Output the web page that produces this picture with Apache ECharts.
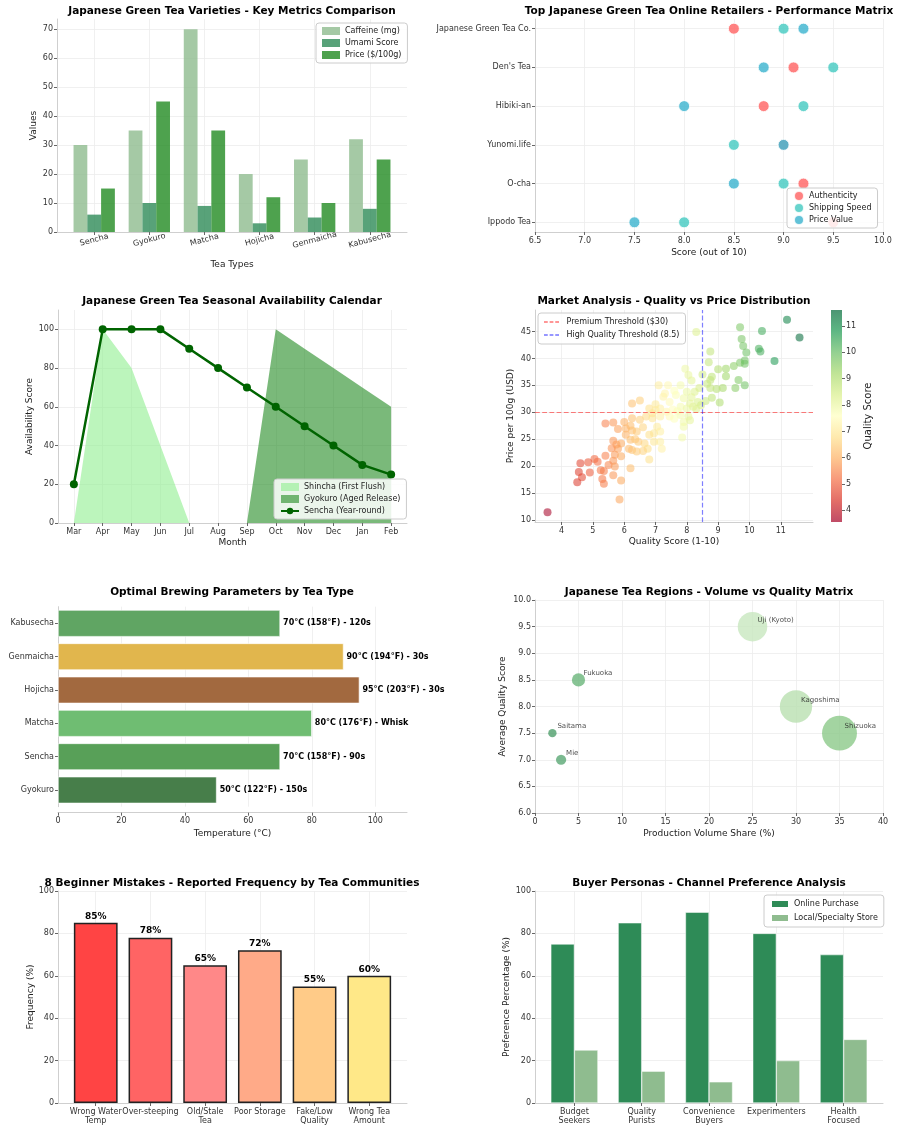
<!DOCTYPE html>
<html>
<head>
<meta charset="utf-8">
<script src="https://cdn.jsdelivr.net/npm/echarts@6/dist/echarts.min.js"></script>
<style>
html, body { margin: 0; padding: 0; background: #fff; }
#chart { width: 900px; height: 1133px; }
</style>
</head>
<body>
<div id="chart"></div>
<script>
// ---- data ----
const teaTypes = ['Sencha', 'Gyokuro', 'Matcha', 'Hojicha', 'Genmaicha', 'Kabusecha']
const caffeine = [30, 35, 70, 20, 25, 32]
const umami = [6, 10, 9, 3, 5, 8]
const price = [15, 45, 35, 12, 10, 25]

const retailers = ['Ippodo Tea', 'O-cha', 'Yunomi.life', 'Hibiki-an', "Den's Tea", 'Japanese Green Tea Co.']
const authenticity = [9.5, 9.2, 9.0, 8.8, 9.1, 8.5]
const shippingSpeed = [8.0, 9.0, 8.5, 9.2, 9.5, 9.0]
const priceValue = [7.5, 8.5, 9.0, 8.0, 8.8, 9.2]

const months = ['Mar', 'Apr', 'May', 'Jun', 'Jul', 'Aug', 'Sep', 'Oct', 'Nov', 'Dec', 'Jan', 'Feb']
const shincha = [0, 100, 80, 40, 0, 0, 0, 0, 0, 0, 0, 0]
const gyokuroRelease = [0, 0, 0, 0, 0, 0, 0, 100, 90, 80, 70, 60]
const senchaYear = [20, 100, 100, 100, 90, 80, 70, 60, 50, 40, 30, 25]

// [quality score, price per 100g]
const marketPoints = [
  [11.2, 47.2], [11.6, 43.9], [10.4, 45.1], [9.7, 45.8], [9.75, 43.6], [9.8, 42.3], [9.9, 41.1],
  [10.3, 41.8], [10.35, 41.3], [10.8, 39.5], [9.7, 39.2], [9.85, 39.0], [9.85, 39.6], [9.5, 38.6],
  [9.25, 38.1], [9.0, 38.0], [9.25, 36.7], [9.65, 36.0], [9.55, 34.5], [9.85, 35.0], [9.15, 34.5],
  [8.95, 34.3], [8.75, 34.5], [8.75, 36.0], [8.8, 36.6], [8.7, 39.3], [8.75, 41.3], [9.05, 31.8],
  [8.8, 32.7], [8.6, 32.1], [8.5, 37.0], [8.3, 44.9], [8.65, 35.3], [7.95, 38.1], [8.05, 36.9],
  [7.8, 35.0], [8.0, 33.8], [8.25, 33.8], [7.9, 32.6], [8.1, 31.6], [8.35, 31.9], [8.45, 31.3],
  [7.65, 33.2], [7.4, 35.0], [7.1, 35.0], [7.25, 32.9], [7.45, 31.9], [7.8, 31.0], [8.0, 30.7],
  [8.2, 31.0], [6.8, 30.7], [7.0, 30.4], [7.15, 30.7], [7.35, 30.1], [7.15, 29.2], [7.45, 29.2],
  [7.8, 29.5], [8.05, 29.2], [7.9, 28.2], [8.1, 28.5], [7.9, 27.3], [7.85, 25.3], [6.7, 29.2],
  [6.9, 28.9], [6.5, 28.6], [6.25, 28.9], [7.05, 27.3], [7.15, 26.4], [6.95, 26.1], [6.8, 25.8],
  [7.15, 24.5], [7.2, 23.2], [6.95, 24.5], [6.65, 24.2], [6.45, 24.5], [6.75, 23.2], [6.8, 21.2],
  [6.4, 26.4], [6.25, 26.6], [6.2, 27.5], [6.05, 27.0], [6.0, 28.2], [6.25, 31.6], [6.5, 32.2],
  [6.05, 25.8], [6.2, 24.9], [6.15, 23.2], [6.25, 23.0], [6.4, 22.7], [5.9, 24.2], [5.8, 23.2],
  [6.2, 19.6], [5.9, 17.3], [5.85, 13.8], [5.4, 27.9], [5.65, 28.1], [5.8, 26.9], [5.65, 24.7],
  [5.75, 24.0], [5.6, 23.3], [5.7, 22.1], [5.9, 21.8], [5.4, 21.9], [5.65, 21.0], [5.5, 20.2],
  [5.7, 19.9], [5.05, 21.3], [5.15, 20.8], [5.25, 19.2], [5.35, 19.1], [4.9, 18.8], [4.85, 20.7],
  [4.6, 20.5], [4.55, 18.9], [4.65, 17.9], [4.5, 17.0], [5.3, 17.6], [5.35, 16.7], [5.65, 18.3],
  [3.55, 11.4], [8.15, 35.9], [7.6, 34.0], [7.55, 30.5], [7.7, 30.2], [8.3, 30.6], [7.3, 33.5],
  [7.0, 31.5], [6.9, 29.8], [8.4, 34.5], [8.15, 32.8], [7.6, 28.8], [6.6, 27.2], [6.35, 25.0], [6.6, 22.8]
]
const premiumThreshold = 30
const qualityThreshold = 8.5
const qualityMin = 3.55
const qualityMax = 11.6

const brewTeas = ['Gyokuro', 'Sencha', 'Matcha', 'Hojicha', 'Genmaicha', 'Kabusecha']
const brewTemps = [50, 70, 80, 95, 90, 70]
const brewLabels = ['50°C (122°F) - 150s', '70°C (158°F) - 90s', '80°C (176°F) - Whisk',
  '95°C (203°F) - 30s', '90°C (194°F) - 30s', '70°C (158°F) - 120s']

const regions = ['Shizuoka', 'Kagoshima', 'Uji (Kyoto)', 'Fukuoka', 'Mie', 'Saitama']
const regionVolume = [35, 30, 25, 5, 3, 2]
const regionQuality = [7.5, 8.0, 9.5, 8.5, 7.0, 7.5]

const mistakes = ['Wrong Water\nTemp', 'Over-steeping', 'Old/Stale\nTea', 'Poor Storage', 'Fake/Low\nQuality', 'Wrong Tea\nAmount']
const mistakeFreq = [85, 78, 65, 72, 55, 60]

const personas = ['Budget\nSeekers', 'Quality\nPurists', 'Convenience\nBuyers', 'Experimenters', 'Health\nFocused']
const onlinePref = [75, 85, 90, 80, 70]
const localPref = [25, 15, 10, 20, 30]

// ---- styles ----
const FONT = '"DejaVu Sans", sans-serif'
const brewColors = ['#477e4a', '#58a058', '#6fbd72', '#a2693f', '#e1b64d', '#60a563']
const regionColors = ['#8cc98a', '#b9e0b0', '#c8e7bf', '#6ab57a', '#5aa874', '#4f9f6c']
const mistakeColors = ['#ff4444', '#ff6464', '#ff8888', '#ffaa88', '#ffcb88', '#ffe888']
const rdylgn = ['#a50026', '#d73027', '#f46d43', '#fdae61', '#fee08b', '#ffffbf', '#d9ef8b', '#a6d96a', '#66bd63', '#1a9850', '#006837']
const rgba = (hex, a) => `rgba(${parseInt(hex.slice(1, 3), 16)},${parseInt(hex.slice(3, 5), 16)},${parseInt(hex.slice(5, 7), 16)},${a})`
const cmap = rdylgn.map(c => rgba(c, 0.7))
const dashIcon = 'path://M0,0H5V2H0Z M7.5,0H12.5V2H7.5Z M15,0H20V2H15Z'

const range = (a, b, s) => { const r = []; for (let v = a; v <= b + 1e-9; v += s) r.push(Math.round(v * 100) / 100); return r }

function vAxis(grid, min, max, step, o) {
  o = o || {}
  const ticks = o.ticks || range(Math.ceil(min / step - 1e-9) * step, max, step)
  return {
    type: 'value', gridIndex: grid, min, max, minInterval: step, maxInterval: step,
    position: o.position,
    offset: o.offset || 0,
    name: o.name || '', nameLocation: 'middle', nameGap: o.nameGap || 20,
    nameRotate: o.nameRotate,
    nameTextStyle: { color: '#222', fontSize: o.nameSize || 9, fontFamily: FONT },
    axisLine: { show: o.line !== false, onZero: false, lineStyle: { color: '#cfcfcf', width: 1 } },
    axisTick: { show: true, length: 3, customValues: ticks, lineStyle: { color: '#666' } },
    axisLabel: {
      color: '#333', fontSize: 8, fontFamily: FONT, margin: o.margin || 4,
      customValues: ticks, formatter: o.fmt, rotate: o.rotate || 0, align: o.align,
      lineHeight: 9, hideOverlap: false
    },
    splitLine: { show: o.split !== false, lineStyle: { color: '#ececec', width: 0.8 } }
  }
}

const legendBase = {
  orient: 'vertical', itemWidth: 18, itemHeight: 8, itemGap: 4, padding: [4, 6],
  backgroundColor: 'rgba(255,255,255,0.85)', borderColor: '#cccccc', borderWidth: 1, borderRadius: 3,
  textStyle: { fontSize: 8, color: '#222', fontFamily: FONT }
}

const titles = [
  [232, 11, 'Japanese Green Tea Varieties - Key Metrics Comparison'],
  [709, 11, 'Top Japanese Green Tea Online Retailers - Performance Matrix'],
  [232, 301, 'Japanese Green Tea Seasonal Availability Calendar'],
  [674, 301, 'Market Analysis - Quality vs Price Distribution'],
  [232, 592, 'Optimal Brewing Parameters by Tea Type'],
  [709, 592, 'Japanese Tea Regions - Volume vs Quality Matrix'],
  [232, 883, '8 Beginner Mistakes - Reported Frequency by Tea Communities'],
  [709, 883, 'Buyer Personas - Channel Preference Analysis']
]

const pairs = arr => arr.map((v, i) => [i, v])

const option = {
  animation: false,
  backgroundColor: '#fff',
  textStyle: { fontFamily: FONT },
  graphic: titles.map(t => ({
    type: 'text', x: t[0], y: t[1],
    style: { text: t[2], font: 'bold 10.5px "DejaVu Sans"', fill: '#000', align: 'center', verticalAlign: 'middle' }
  })),
  grid: [
    { left: 57, top: 19, width: 350, height: 213 },
    { left: 535, top: 19, width: 348, height: 213 },
    { left: 58, top: 310, width: 349, height: 213 },
    { left: 535, top: 310, width: 278, height: 212 },
    { left: 58, top: 606.7, width: 349, height: 200 },
    { left: 535, top: 600, width: 348, height: 213 },
    { left: 58, top: 891, width: 349, height: 212 },
    { left: 535, top: 891, width: 348, height: 212 },
    { left: 831, top: 310, width: 11, height: 212 }
  ],
  xAxis: [
    vAxis(0, -0.675, 5.675, 1, { ticks: range(0, 5, 1), fmt: v => teaTypes[Math.round(v)], rotate: 15, align: 'center', margin: 8, name: 'Tea Types', nameGap: 28 }),
    vAxis(1, 6.5, 10, 0.5, { fmt: v => v.toFixed(1), name: 'Score (out of 10)', nameGap: 16 }),
    vAxis(2, -0.55, 11.55, 1, { ticks: range(0, 11, 1), fmt: v => months[Math.round(v)], name: 'Month', nameGap: 15 }),
    vAxis(3, 3.15, 12.03, 1, { ticks: range(4, 11, 1), name: 'Quality Score (1-10)', nameGap: 15 }),
    vAxis(4, 0, 110, 20, { ticks: range(0, 100, 20), offset: 6, name: 'Temperature (°C)', nameGap: 16 }),
    vAxis(5, 0, 40, 5, { name: 'Production Volume Share (%)', nameGap: 16 }),
    vAxis(6, -0.69, 5.69, 1, { ticks: range(0, 5, 1), fmt: v => mistakes[Math.round(v)] }),
    vAxis(7, -0.585, 4.585, 1, { ticks: range(0, 4, 1), fmt: v => personas[Math.round(v)] }),
    { type: 'category', gridIndex: 8, data: [''], show: false }
  ],
  yAxis: [
    vAxis(0, 0, 73.5, 10, { ticks: range(0, 70, 10), name: 'Values', nameGap: 19 }),
    vAxis(1, -0.25, 5.25, 1, { ticks: range(0, 5, 1), fmt: v => retailers[Math.round(v)] }),
    vAxis(2, 0, 110, 20, { ticks: range(0, 100, 20), name: 'Availability Score', nameGap: 24 }),
    vAxis(3, 9.6, 49, 5, { ticks: range(10, 45, 5), name: 'Price per 100g (USD)', nameGap: 20 }),
    {
      type: 'category', gridIndex: 4, data: brewTeas,
      axisLine: { show: true, lineStyle: { color: '#cfcfcf' } },
      axisTick: { show: true, alignWithLabel: true, length: 3, lineStyle: { color: '#666' } },
      axisLabel: { color: '#333', fontSize: 8, fontFamily: FONT, margin: 4 },
      splitLine: { show: false }
    },
    vAxis(5, 6, 10, 0.5, { fmt: v => v.toFixed(1), name: 'Average Quality Score', nameGap: 28 }),
    vAxis(6, 0, 100, 20, { name: 'Frequency (%)', nameGap: 23 }),
    vAxis(7, 0, 100, 20, { name: 'Preference Percentage (%)', nameGap: 24 }),
    vAxis(8, qualityMin, qualityMax, 1, { ticks: range(4, 11, 1), position: 'right', line: false, split: false, name: 'Quality Score', nameGap: 21, nameRotate: 90, nameSize: 10 })
  ],
  visualMap: [{
    type: 'continuous', show: false, seriesIndex: 10, dimension: 0,
    min: qualityMin, max: qualityMax, inRange: { color: cmap }
  }],
  legend: [
    Object.assign({}, legendBase, { left: 316, top: 23, icon: 'rect', data: ['Caffeine (mg)', 'Umami Score', 'Price ($/100g)'] }),
    Object.assign({}, legendBase, { left: 787, top: 188, icon: 'circle', itemWidth: 10, itemHeight: 10, itemGap: 0, padding: [2, 6], data: ['Authenticity', 'Shipping Speed', 'Price Value'] }),
    Object.assign({}, legendBase, { left: 274, top: 479, data: [{ name: 'Shincha (First Flush)', icon: 'rect' }, { name: 'Gyokuro (Aged Release)', icon: 'rect' }, 'Sencha (Year-round)'] }),
    Object.assign({}, legendBase, { left: 538, top: 313, itemWidth: 20, itemHeight: 1.5, itemGap: 5, padding: [5, 6], icon: dashIcon, data: ['Premium Threshold ($30)', 'High Quality Threshold (8.5)'] }),
    Object.assign({}, legendBase, { left: 764, top: 895, icon: 'rect', data: ['Online Purchase', 'Local/Specialty Store'] })
  ],
  series: [
    // 0-2 key metrics
    { type: 'bar', name: 'Caffeine (mg)', xAxisIndex: 0, yAxisIndex: 0, data: pairs(caffeine), barWidth: '25%', barGap: '0%', itemStyle: { color: '#8FBC8F', opacity: 0.8 } },
    { type: 'bar', name: 'Umami Score', xAxisIndex: 0, yAxisIndex: 0, data: pairs(umami), barWidth: '25%', barGap: '0%', itemStyle: { color: '#2E8B57', opacity: 0.8 } },
    { type: 'bar', name: 'Price ($/100g)', xAxisIndex: 0, yAxisIndex: 0, data: pairs(price), barWidth: '25%', barGap: '0%', itemStyle: { color: '#228B22', opacity: 0.8 } },
    // 3-5 retailers
    { type: 'scatter', name: 'Authenticity', xAxisIndex: 1, yAxisIndex: 1, data: authenticity.map((v, i) => [v, i]), symbolSize: 11, itemStyle: { color: '#FF6B6B', opacity: 0.85, borderColor: '#fff', borderWidth: 1 } },
    { type: 'scatter', name: 'Shipping Speed', xAxisIndex: 1, yAxisIndex: 1, data: shippingSpeed.map((v, i) => [v, i]), symbolSize: 11, itemStyle: { color: '#4ECDC4', opacity: 0.85, borderColor: '#fff', borderWidth: 1 } },
    { type: 'scatter', name: 'Price Value', xAxisIndex: 1, yAxisIndex: 1, data: priceValue.map((v, i) => [v, i]), symbolSize: 11, itemStyle: { color: '#45B7D1', opacity: 0.85, borderColor: '#fff', borderWidth: 1 } },
    // 6-8 seasonal
    { type: 'line', name: 'Shincha (First Flush)', xAxisIndex: 2, yAxisIndex: 2, data: pairs(shincha), symbol: 'none', lineStyle: { width: 0 }, itemStyle: { color: 'rgba(144,238,144,0.6)' }, areaStyle: { color: 'rgba(144,238,144,0.6)', opacity: 1 } },
    { type: 'line', name: 'Gyokuro (Aged Release)', xAxisIndex: 2, yAxisIndex: 2, data: pairs(gyokuroRelease), symbol: 'none', lineStyle: { width: 0 }, itemStyle: { color: 'rgba(34,139,34,0.6)' }, areaStyle: { color: 'rgba(34,139,34,0.6)', opacity: 1 } },
    { type: 'line', name: 'Sencha (Year-round)', xAxisIndex: 2, yAxisIndex: 2, data: pairs(senchaYear), symbol: 'circle', symbolSize: 8, lineStyle: { width: 2.5, color: '#006400' }, itemStyle: { color: '#006400' } },
    // 9 premium threshold
    { type: 'line', name: 'Premium Threshold ($30)', xAxisIndex: 3, yAxisIndex: 3, data: [], symbol: 'none', lineStyle: { type: 'dashed', color: 'rgba(255,0,0,0.55)', width: 1.2 }, itemStyle: { color: 'rgba(255,0,0,0.55)' },
      markLine: { silent: true, symbol: ['none', 'none'], label: { show: false }, lineStyle: { type: 'dashed', color: 'rgba(255,0,0,0.5)', width: 1.2 }, data: [{ yAxis: premiumThreshold }] } },
    // 10 market scatter
    { type: 'scatter', name: 'market', xAxisIndex: 3, yAxisIndex: 3, data: marketPoints, symbolSize: 8, z: 3 },
    { type: 'line', name: 'High Quality Threshold (8.5)', xAxisIndex: 3, yAxisIndex: 3, data: [], symbol: 'none', lineStyle: { type: 'dashed', color: 'rgba(0,0,255,0.55)', width: 1.2 }, itemStyle: { color: 'rgba(0,0,255,0.55)' },
      markLine: { silent: true, symbol: ['none', 'none'], label: { show: false }, lineStyle: { type: 'dashed', color: 'rgba(0,0,255,0.5)', width: 1.2 }, data: [{ xAxis: qualityThreshold }] } },
    // colorbar
    { type: 'bar', name: 'cbBase', xAxisIndex: 8, yAxisIndex: 8, stack: 'cb', data: [qualityMin], barWidth: '100%', itemStyle: { color: 'transparent' }, silent: true },
    { type: 'bar', name: 'cbRange', xAxisIndex: 8, yAxisIndex: 8, stack: 'cb', data: [qualityMax - qualityMin], barWidth: '100%', silent: true,
      itemStyle: { color: { type: 'linear', x: 0, y: 1, x2: 0, y2: 0, colorStops: cmap.map((c, i) => ({ offset: i / (cmap.length - 1), color: c })) } } },
    // brewing
    { type: 'bar', name: 'brew', xAxisIndex: 4, yAxisIndex: 4, barWidth: '80%',
      data: brewTemps.map((v, i) => ({ value: v, itemStyle: { color: brewColors[i] } })),
      itemStyle: { borderColor: '#fff', borderWidth: 0.6 },
      label: { show: true, position: 'right', distance: 3, formatter: p => brewLabels[p.dataIndex], fontWeight: 'bold', fontSize: 8, color: '#000', fontFamily: FONT } },
    // regions
    { type: 'scatter', name: 'regions', xAxisIndex: 5, yAxisIndex: 5,
      data: regionVolume.map((v, i) => [v, regionQuality[i]]),
      symbolSize: v => Math.sqrt(v[0]) * 5.9,
      itemStyle: { color: p => regionColors[p.dataIndex], opacity: 0.8 },
      label: { show: true, position: 'inside', align: 'left', offset: [5, -6.5], formatter: p => regions[p.dataIndex], fontSize: 7, color: '#222', fontFamily: FONT } },
    // mistakes
    { type: 'bar', name: 'mistakes', xAxisIndex: 6, yAxisIndex: 6, data: pairs(mistakeFreq), barWidth: '80%',
      itemStyle: { color: p => mistakeColors[p.dataIndex], borderColor: '#222', borderWidth: 1.5 },
      label: { show: true, position: 'top', distance: 2, formatter: p => p.value[1] + '%', fontWeight: 'bold', fontSize: 9, color: '#000', fontFamily: FONT } },
    // personas
    { type: 'bar', name: 'Online Purchase', xAxisIndex: 7, yAxisIndex: 7, data: pairs(onlinePref), barWidth: '35%', barGap: '0%', itemStyle: { color: '#2E8B57', borderColor: '#fff', borderWidth: 0.5 } },
    { type: 'bar', name: 'Local/Specialty Store', xAxisIndex: 7, yAxisIndex: 7, data: pairs(localPref), barWidth: '35%', barGap: '0%', itemStyle: { color: '#8FBC8F', borderColor: '#fff', borderWidth: 0.5 } }
  ]
}

const chart = echarts.init(document.getElementById('chart'), null, { renderer: 'canvas' })
chart.setOption(option)
</script>
</body>
</html>
